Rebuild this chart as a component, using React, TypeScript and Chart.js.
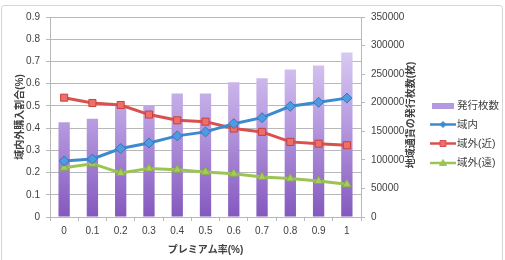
import React, { useEffect, useRef } from "react";
import { Chart, registerables } from "chart.js";

Chart.register(...registerables);

const categories = ["0", "0.1", "0.2", "0.3", "0.4", "0.5", "0.6", "0.7", "0.8", "0.9", "1"];
const issuedCount = [166000, 172000, 194000, 196000, 216000, 216000, 236000, 243000, 258000, 265000, 288000];
const inside = [0.252, 0.261, 0.308, 0.333, 0.365, 0.383, 0.42, 0.447, 0.498, 0.516, 0.535];
const outsideNear = [0.537, 0.513, 0.504, 0.461, 0.435, 0.429, 0.398, 0.383, 0.338, 0.33, 0.323];
const outsideFar = [0.222, 0.24, 0.198, 0.218, 0.213, 0.203, 0.195, 0.18, 0.173, 0.162, 0.147];

const FONT = "'Liberation Sans', 'Noto Sans CJK JP', sans-serif";
const TEXT = "#404040";
const GRID = "#b8b8b8";

const BLUE = "#3d8ad0";
const RED = "#d9504c";
const RED_FILL = "#ee6e6a";
const GREEN = "#9cc454";
const PURPLE = "#a98ad8";

function barGradient(chart: Chart) {
  const { ctx, chartArea, scales } = chart as any;
  if (!chartArea) return PURPLE;
  const y0 = scales.y1.getPixelForValue(0);
  const y1 = scales.y1.getPixelForValue(300000);
  const g = ctx.createLinearGradient(0, y0, 0, y1);
  g.addColorStop(0, "#8458be");
  g.addColorStop(0.55, "#b79be0");
  g.addColorStop(1, "#dccdf3");
  return g;
}

// Right-hand title (reads bottom to top) and the legend with line + marker samples
const sidePlugin = {
  id: "sideDecor",
  afterDraw(chart: any) {
    const { ctx, chartArea } = chart;
    ctx.save();
    ctx.fillStyle = TEXT;
    ctx.font = `bold 10px ${FONT}`;
    ctx.textAlign = "center";
    ctx.textBaseline = "middle";
    ctx.translate(chartArea.right + 50, (chartArea.top + chartArea.bottom) / 2 - 2);
    ctx.rotate(-Math.PI / 2);
    ctx.fillText("地域通貨の発行枚数(枚)", 0, 0);
    ctx.restore();

    const lx = chartArea.right + 69;
    const items = [
      { label: "発行枚数", type: "bar", color: PURPLE, y: 106 },
      { label: "域内", type: "rectRot", color: BLUE, fill: BLUE, y: 124.5 },
      { label: "域外(近)", type: "rect", color: RED, fill: RED_FILL, y: 143.5 },
      { label: "域外(遠)", type: "triangle", color: GREEN, fill: GREEN, y: 163 },
    ];
    ctx.save();
    ctx.font = `10.5px ${FONT}`;
    ctx.textBaseline = "middle";
    ctx.textAlign = "left";
    for (const it of items) {
      if (it.type === "bar") {
        ctx.fillStyle = "#b49ae0";
        ctx.fillRect(lx + 2, it.y - 3, 22, 6);
      } else {
        ctx.strokeStyle = it.color;
        ctx.lineWidth = 2.5;
        ctx.beginPath();
        ctx.moveTo(lx, it.y);
        ctx.lineTo(lx + 26, it.y);
        ctx.stroke();
        ctx.fillStyle = it.fill as string;
        ctx.strokeStyle = it.color;
        ctx.lineWidth = 1;
        const cx = lx + 13;
        ctx.beginPath();
        if (it.type === "rectRot") {
          ctx.moveTo(cx, it.y - 3);
          ctx.lineTo(cx + 3, it.y);
          ctx.lineTo(cx, it.y + 3);
          ctx.lineTo(cx - 3, it.y);
          ctx.closePath();
        } else if (it.type === "rect") {
          ctx.rect(cx - 3, it.y - 3, 6, 6);
        } else {
          ctx.moveTo(cx, it.y - 3.5);
          ctx.lineTo(cx + 3.5, it.y + 2.5);
          ctx.lineTo(cx - 3.5, it.y + 2.5);
          ctx.closePath();
        }
        ctx.fill();
        ctx.stroke();
      }
      ctx.fillStyle = TEXT;
      ctx.fillText(it.label, lx + 27, it.y + 0.5);
    }
    ctx.restore();
  },
};

export default function App() {
  const ref = useRef<HTMLCanvasElement | null>(null);

  useEffect(() => {
    document.body.style.margin = "0";
    if (!ref.current) return;
    const chart = new Chart(ref.current, {
      type: "bar",
      data: {
        labels: categories,
        datasets: [
          {
            type: "line",
            label: "域内",
            data: inside,
            yAxisID: "y",
            borderColor: BLUE,
            backgroundColor: BLUE,
            borderWidth: 3,
            pointStyle: "rectRot",
            pointRadius: 5,
            pointBackgroundColor: "#4f9be0",
            pointBorderColor: "#2f78bd",
            pointBorderWidth: 1,
            order: 1,
          },
          {
            type: "line",
            label: "域外(近)",
            data: outsideNear,
            yAxisID: "y",
            borderColor: RED,
            backgroundColor: RED_FILL,
            borderWidth: 3,
            pointStyle: "rect",
            pointRadius: 5,
            pointBackgroundColor: RED_FILL,
            pointBorderColor: "#c8403c",
            pointBorderWidth: 1,
            order: 1,
          },
          {
            type: "line",
            label: "域外(遠)",
            data: outsideFar,
            yAxisID: "y",
            borderColor: GREEN,
            backgroundColor: GREEN,
            borderWidth: 3,
            pointStyle: "triangle",
            pointRadius: 5,
            pointBackgroundColor: "#a6cc5e",
            pointBorderColor: "#86ad42",
            pointBorderWidth: 1,
            order: 1,
          },
          {
            type: "bar",
            label: "発行枚数",
            data: issuedCount,
            yAxisID: "y1",
            backgroundColor: (c: any) => barGradient(c.chart),
            barPercentage: 0.4,
            categoryPercentage: 1,
            order: 2,
          },
        ],
      },
      options: {
        animation: false,
        responsive: false,
        layout: { padding: { top: 17, left: 0, right: 0, bottom: 0 } },
        plugins: { legend: { display: false }, tooltip: { enabled: false } },
        scales: {
          x: {
            offset: true,
            grid: {
              display: true,
              drawOnChartArea: false,
              offset: true,
              tickLength: 4,
              color: GRID,
            },
            border: { color: GRID },
            ticks: { color: TEXT, font: { family: FONT, size: 10 }, padding: 4 },
            title: {
              display: true,
              text: "プレミアム率(%)",
              color: TEXT,
              font: { family: FONT, size: 10, weight: "bold" },
              padding: { top: 4, bottom: 4 },
            },
            afterFit(s: any) {
              s.height = 43;
            },
          },
          y: {
            position: "left",
            min: 0,
            max: 0.9,
            ticks: { stepSize: 0.1, color: TEXT, font: { family: FONT, size: 10 }, padding: 6 },
            grid: { color: GRID, tickLength: 4 },
            border: { color: GRID },
            title: {
              display: true,
              text: "域内外購入割合(%)",
              color: TEXT,
              font: { family: FONT, size: 10, weight: "bold" },
              padding: { top: 14, bottom: 4 },
            },
            afterFit(s: any) {
              s.width = 50;
            },
          },
          y1: {
            position: "right",
            min: 0,
            max: 350000,
            ticks: {
              stepSize: 50000,
              color: TEXT,
              font: { family: FONT, size: 10 },
              padding: 6,
              callback: (v: any) => String(v),
            },
            grid: { drawOnChartArea: false, color: GRID, tickLength: 4 },
            border: { color: GRID },
            afterFit(s: any) {
              s.width = 144;
            },
          },
        },
      },
      plugins: [sidePlugin],
    });
    return () => chart.destroy();
  }, []);

  return (
    <div style={{ position: "relative", width: 505, height: 260, overflow: "hidden", background: "#fff" }}>
      <canvas ref={ref} width={505} height={260} style={{ position: "absolute", left: 0, top: 0 }} />
      <div
        style={{
          position: "absolute",
          left: 1,
          top: 5,
          width: 500,
          height: 262,
          border: "1px solid #d6d6d6",
          borderRadius: 3,
          pointerEvents: "none",
        }}
      />
    </div>
  );
}
